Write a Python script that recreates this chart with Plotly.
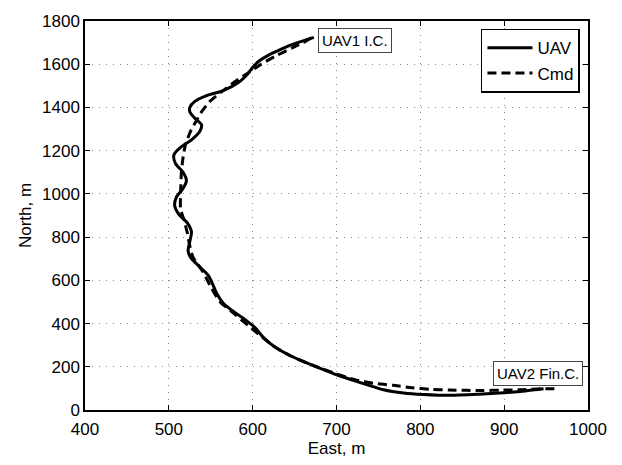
import plotly.graph_objects as go

east_uav = [673, 660, 645, 630, 618, 608, 601, 594, 583, 565, 545, 531, 525, 525, 531, 539, 537, 527,
            514, 506, 508, 517, 521, 516, 509, 507, 512, 522, 527, 525, 523, 527, 537, 547, 552, 557,
            565, 577, 591, 603, 613, 627, 645, 660, 676, 700, 730, 756, 780, 804, 835, 870, 900, 925, 947]
north_uav = [1724, 1708, 1688, 1662, 1640, 1616, 1590, 1555, 1515, 1478, 1455, 1428, 1400, 1380, 1350,
             1320, 1290, 1250, 1215, 1180, 1140, 1100, 1060, 1020, 985, 945, 905, 866, 825, 780, 735,
             700, 662, 623, 585, 540, 494, 456, 418, 380, 335, 290, 251, 225, 200, 163, 125, 94, 79,
             72, 68, 73, 80, 88, 98]

east_cmd = [670, 660, 649, 629, 610, 595, 580, 562, 549, 540, 533, 526, 520, 517, 515, 514, 514, 518,
            522, 525, 529, 541, 551, 561, 575, 595, 612, 627, 645, 670, 700, 722, 744, 768, 790, 812,
            835, 855, 875, 895, 923, 945, 965]
north_cmd = [1722, 1700, 1679, 1641, 1600, 1560, 1522, 1470, 1428, 1385, 1340, 1290, 1230, 1170, 1100,
             1000, 930, 880, 820, 760, 706, 638, 562, 501, 455, 390, 335, 290, 251, 210, 167, 140, 124,
             114, 103, 96, 92, 91, 90, 92, 94, 98, 99]

x_ticks = [400, 500, 600, 700, 800, 900, 1000]
y_ticks = [0, 200, 400, 600, 800, 1000, 1200, 1400, 1600, 1800]

FONT = "Liberation Sans, Arial, sans-serif"

fig = go.Figure()
fig.add_trace(go.Scatter(x=east_uav, y=north_uav, mode="lines", name="UAV",
                         line=dict(color="black", width=3, shape="spline", smoothing=0.8)))
fig.add_trace(go.Scatter(x=east_cmd, y=north_cmd, mode="lines", name="Cmd",
                         line=dict(color="black", width=3, dash="9px,5px", shape="spline", smoothing=0.6)))

fig.add_annotation(x=678, y=1709, xref="x", yref="y", text="UAV1 I.C.", showarrow=False,
                   xanchor="left", yanchor="middle", font=dict(family=FONT, size=15, color="black"),
                   bgcolor="white", bordercolor="#444", borderwidth=1, borderpad=3)
fig.add_annotation(x=994, y=170, xref="x", yref="y", text="UAV2 Fin.C.", showarrow=False,
                   xanchor="right", yanchor="middle", font=dict(family=FONT, size=15, color="black"),
                   bgcolor="white", bordercolor="#444", borderwidth=1, borderpad=3)

axis_common = dict(showline=True, linecolor="black", linewidth=1.5, mirror="ticks",
                   ticks="inside", ticklen=5, tickcolor="black", tickwidth=1,
                   showgrid=True, gridcolor="#8a8a8a", griddash="1px,6px", gridwidth=1,
                   zeroline=False, tickfont=dict(family=FONT, size=17, color="black"))

fig.update_xaxes(range=[400, 1000], tickvals=x_ticks, ticktext=[str(v) for v in x_ticks],
                 ticklabelstandoff=3,
                 title=dict(text="East, m", font=dict(family=FONT, size=17, color="black"), standoff=2),
                 **axis_common)
fig.update_yaxes(range=[0, 1800], tickvals=y_ticks, ticktext=[str(v) for v in y_ticks],
                 title=dict(text="North, m", font=dict(family=FONT, size=17, color="black"), standoff=6),
                 **axis_common)

fig.update_layout(
    width=622, height=465,
    margin=dict(l=85, r=34, t=15, b=55),
    paper_bgcolor="white", plot_bgcolor="white",
    showlegend=True,
    legend=dict(x=0.984, y=0.98, xanchor="right", yanchor="top",
                bgcolor="white", bordercolor="black", borderwidth=1.5,
                font=dict(family=FONT, size=17, color="black"), itemwidth=45,
                tracegroupgap=0),
)

fig.write_html("out.html")
